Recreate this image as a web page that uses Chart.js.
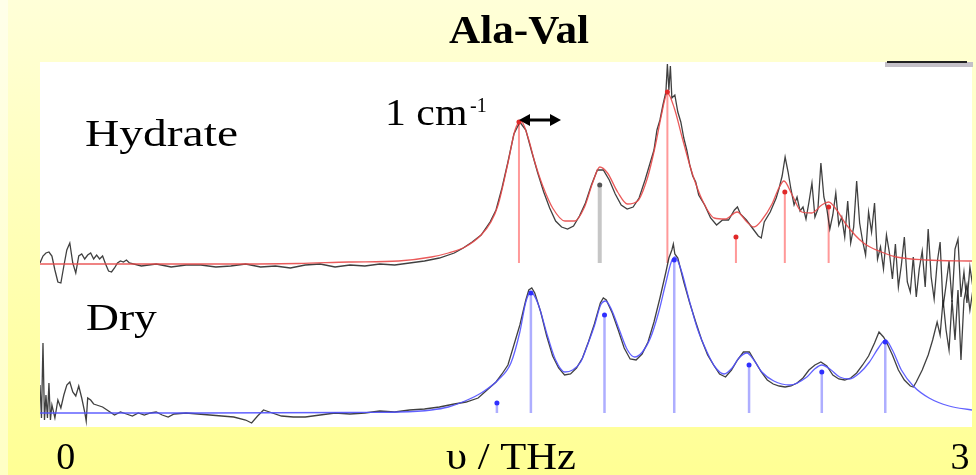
<!DOCTYPE html>
<html>
<head>
<meta charset="utf-8">
<script src="https://cdn.jsdelivr.net/npm/chart.js@4"></script>
<style>
  body{margin:0;background:#fff;}
  #wrap{width:976px;height:475px;}
</style>
</head>
<body>
<div id="wrap"><canvas id="spectra" width="976" height="475"></canvas></div>
<script>
// x in THz, y in absorbance (a.u.), hydrate trace is offset upward
const titleText='Ala-Val';
const axisLabel='υ / THz';
const xTicks=[0,3];

// Hydrate: measured spectrum
const hydRawX=[-0.09,-0.08,-0.07,-0.06,-0.05,-0.04,-0.03,-0.02,-0.01,0,0.01,0.02,0.03,0.04,0.05,0.06,0.07,0.08,0.09,0.10,0.11,0.12,0.13,0.14,0.15,0.16,0.17,0.18,0.19,0.20,0.21,
  0.25,0.30,0.35,0.40,0.45,0.50,0.55,0.60,0.65,0.70,0.75,0.80,0.85,0.90,0.95,1.00,1.05,1.10,1.15,1.20,1.25,1.30,
  1.33,1.36,1.39,1.42,1.44,1.46,1.48,1.50,1.52,1.54,1.56,1.58,1.60,1.62,1.64,1.66,1.68,1.70,1.72,1.74,1.76,1.78,1.80,1.82,1.84,1.86,1.88,1.90,1.92,1.94,1.96,1.97,1.98,1.99,2.00,2.01,2.015,2.02,2.025,2.03,2.04,2.05,2.06,2.07,2.08,2.09,2.10,2.11,2.12,2.14,2.16,2.18,2.20,2.22,2.24,2.25,2.26,2.28,2.30,2.32,2.33,2.34,2.36,2.38,2.39,2.40,2.41,2.42,2.43,2.44,
  2.45,2.46,2.47,2.48,2.49,2.50,2.51,2.52,2.53,2.54,2.55,2.56,2.57,2.58,2.59,2.60,2.61,2.62,2.63,2.64,2.65,2.66,2.67,2.68,2.69,2.70,2.71,2.72,2.73,2.74,2.75,2.76,2.77,2.78,2.79,2.80,2.81,2.82,2.83,2.84,2.85,2.86,2.87,2.88,2.89,2.90,2.91,2.92,2.93,2.94,2.95,2.96,2.97,2.98,2.99,3.00,3.01,3.02,3.03,3.04];
const hydRawY=[1.64,1.71,1.74,1.75,1.71,1.57,1.45,1.44,1.61,1.77,1.84,1.64,1.54,1.71,1.73,1.68,1.72,1.74,1.68,1.72,1.68,1.71,1.63,1.56,1.55,1.59,1.64,1.66,1.65,1.67,1.64,
  1.61,1.63,1.60,1.62,1.62,1.60,1.61,1.63,1.60,1.61,1.59,1.62,1.63,1.60,1.62,1.61,1.63,1.62,1.64,1.66,1.69,1.74,
  1.79,1.85,1.92,2.05,2.17,2.39,2.65,2.93,3.05,2.97,2.75,2.54,2.35,2.19,2.06,2.00,1.98,2.01,2.11,2.24,2.42,2.57,2.57,2.47,2.33,2.22,2.18,2.20,2.29,2.47,2.67,2.77,2.97,3.07,3.22,3.35,3.63,3.37,3.61,3.29,3.32,3.15,3.05,2.89,2.77,2.62,2.51,2.45,2.32,2.22,2.09,2.02,2.07,2.07,2.17,2.20,2.13,2.07,1.99,1.91,1.89,2.05,2.15,2.29,2.39,2.51,2.70,2.55,2.37,2.22,
  2.30,2.16,2.20,2.08,2.25,2.44,2.10,2.18,2.64,2.30,2.18,1.98,2.12,2.34,2.02,2.10,1.90,2.26,1.84,2.00,2.46,2.04,1.86,1.72,2.15,1.95,2.24,1.68,1.80,1.58,1.92,1.74,1.48,1.83,1.40,1.62,1.90,1.45,1.35,1.70,1.30,1.58,1.76,1.40,1.98,1.50,1.28,1.64,1.85,1.20,1.42,1.66,1.25,1.78,1.88,1.30,1.55,1.24,1.60,1.40];

// Hydrate: fitted curve
const hydFitX=[-0.09,0.11,0.444,0.778,0.946,1.113,1.223,1.28,1.336,1.39,1.423,1.447,1.48,1.504,1.524,1.547,1.57,1.597,1.63,1.671,1.704,1.737,1.764,1.788,1.814,1.848,1.881,1.915,1.948,1.975,1.995,2.015,2.038,2.065,2.098,2.132,2.172,2.209,2.249,2.282,2.305,2.332,2.366,2.389,2.406,2.432,2.466,2.499,2.533,2.556,2.583,2.616,2.673,2.733,2.783,2.883,3.037];
const hydFitY=[1.63,1.63,1.63,1.635,1.65,1.66,1.70,1.74,1.80,1.92,2.05,2.22,2.64,2.97,3.06,2.90,2.65,2.41,2.19,2.06,2.06,2.20,2.44,2.60,2.54,2.35,2.23,2.26,2.49,2.82,3.12,3.34,3.19,2.89,2.54,2.27,2.09,2.08,2.15,2.05,2.00,2.07,2.23,2.39,2.46,2.33,2.15,2.14,2.22,2.25,2.17,2.02,1.84,1.75,1.70,1.67,1.66];

// Dry: measured spectrum
const dryRawX=[-0.09,-0.085,-0.08,-0.075,-0.07,-0.065,-0.06,-0.055,-0.05,-0.04,
  -0.03,-0.02,-0.01,0,0.01,0.02,0.03,0.04,0.05,0.06,
  0.065,0.07,0.08,0.09,0.10,0.12,0.14,0.16,0.18,0.20,
  0.22,0.24,0.26,0.28,0.30,0.32,0.34,0.36,0.40,0.44,
  0.48,0.52,0.56,0.60,0.62,0.64,0.66,0.68,0.72,0.76,
  0.80,0.85,0.90,0.95,1.00,1.05,1.10,1.15,1.20,1.25,
  1.30,1.34,1.38,1.41,1.44,1.46,1.48,1.50,1.52,1.54,
  1.55,1.56,1.57,1.59,1.61,1.63,1.65,1.67,1.69,1.71,
  1.73,1.75,1.77,1.79,1.80,1.81,1.83,1.85,1.87,1.89,
  1.91,1.93,1.95,1.97,1.99,2.01,2.02,2.03,2.035,2.04,
  2.05,2.06,2.07,2.09,2.11,2.13,2.15,2.17,2.19,2.21,
  2.23,2.25,2.27,2.29,2.31,2.33,2.35,2.37,2.39,2.41,
  2.43,2.45,2.47,2.49,2.51,2.53,2.55,2.57,2.59,2.61,
  2.63,2.65,2.67,2.69,2.71,2.725,2.74,2.75,2.77,2.79,
  2.81,2.83,2.84,2.85,2.87,2.89,2.905,2.92,2.93,2.94,
  2.95,2.96,2.97,2.98,2.99,3.00,3.01,3.02,3.03,3.04];
const dryRawY=[0.42,0.09,0.84,0.07,0.32,0.09,0.44,0.07,0.22,0.09,
  0.27,0.19,0.32,0.42,0.45,0.35,0.31,0.41,0.29,0.15,
  0.06,0.29,0.27,0.23,0.22,0.20,0.16,0.12,0.15,0.13,
  0.11,0.14,0.12,0.14,0.15,0.12,0.10,0.13,0.14,0.13,
  0.12,0.11,0.10,0.07,0.04,0.11,0.17,0.15,0.11,0.10,
  0.10,0.12,0.14,0.13,0.14,0.16,0.15,0.17,0.18,0.20,
  0.23,0.25,0.29,0.37,0.45,0.53,0.62,0.82,1.02,1.27,
  1.37,1.39,1.34,1.15,0.91,0.71,0.59,0.52,0.53,0.59,
  0.69,0.85,1.03,1.24,1.29,1.27,1.14,0.97,0.79,0.68,
  0.67,0.73,0.85,1.05,1.29,1.55,1.69,1.77,1.83,1.73,
  1.69,1.57,1.45,1.24,1.05,0.87,0.72,0.62,0.53,0.50,
  0.57,0.67,0.75,0.75,0.65,0.55,0.47,0.43,0.41,0.40,
  0.41,0.44,0.49,0.57,0.62,0.65,0.61,0.52,0.48,0.47,
  0.49,0.54,0.62,0.71,0.84,0.95,0.90,0.85,0.72,0.57,
  0.47,0.41,0.40,0.45,0.57,0.72,0.87,1.05,0.92,1.27,
  0.97,0.77,1.27,0.87,1.37,0.67,1.27,1.42,1.17,1.37];

// Dry: fitted curve
const dryFitX=[-0.09,0.444,0.946,1.113,1.223,1.28,1.336,1.39,1.447,1.49,1.52,1.54,1.557,1.58,1.614,1.64,1.671,1.697,1.724,1.747,1.771,1.791,1.808,1.828,1.854,1.881,1.905,1.931,1.958,1.985,2.008,2.028,2.041,2.061,2.088,2.115,2.148,2.175,2.205,2.232,2.255,2.282,2.305,2.332,2.372,2.426,2.483,2.509,2.533,2.56,2.593,2.626,2.66,2.693,2.723,2.747,2.77,2.8,2.84,2.893,2.96,3.037];
const dryFitY=[0.14,0.14,0.145,0.15,0.17,0.20,0.26,0.34,0.47,0.64,0.95,1.25,1.35,1.24,0.90,0.67,0.55,0.57,0.65,0.82,1.02,1.22,1.26,1.17,0.97,0.77,0.70,0.75,0.89,1.14,1.42,1.65,1.70,1.57,1.27,0.99,0.75,0.60,0.53,0.59,0.69,0.74,0.67,0.55,0.46,0.42,0.50,0.58,0.62,0.58,0.50,0.48,0.54,0.65,0.79,0.87,0.77,0.57,0.41,0.29,0.21,0.17];

// mode positions (sticks)
const hydStickX=[1.517,2.015,2.245,2.409,2.556];
const hydStickTop=[3.05,3.35,1.90,2.35,2.20];
const hydGrayX=[1.788];
const hydGrayTop=[2.42];
const hydBase=1.64;
const dryStickX=[1.443,1.557,1.804,2.038,2.289,2.533,2.746];
const dryStickTop=[0.24,1.34,1.12,1.67,0.62,0.55,0.85];
const dryBase=0.14;

function zip(xs,ys){
  return xs.map((x,i)=>({x:x,y:ys[i]}));
}
function sticks(xs,tops,base){
  const pts=[];
  for(let i=0;i<xs.length;i++){
    pts.push({x:xs[i],y:base});
    pts.push({x:xs[i],y:tops[i]});
    pts.push({x:xs[i],y:null});
  }
  return pts;
}

function stretchText(ctx,str,x,y,font,sx,align){
  ctx.save();
  ctx.font=font;
  ctx.textBaseline='alphabetic';
  ctx.textAlign=align||'left';
  ctx.translate(x,y);
  ctx.scale(sx,1);
  ctx.fillStyle='#000';
  ctx.fillText(str,0,0);
  ctx.restore();
}

const backdrop={
  id:'backdrop',
  beforeDraw(chart){
    const ctx=chart.ctx, a=chart.chartArea;
    ctx.save();
    const g=ctx.createLinearGradient(0,0,0,chart.height);
    g.addColorStop(0,'#ffffd8');
    g.addColorStop(1,'#ffff94');
    ctx.fillStyle=g;
    ctx.fillRect(0,0,chart.width,chart.height);
    ctx.fillStyle='rgba(255,255,255,0.45)';
    ctx.fillRect(0,0,8,chart.height);
    ctx.fillStyle='#fff';
    ctx.fillRect(a.left,a.top,a.right-a.left,a.bottom-a.top);
    ctx.restore();
  }
};

const labels={
  id:'labels',
  afterDraw(chart){
    const ctx=chart.ctx, xs=chart.scales.x;
    const serif='"Liberation Serif","Times New Roman",serif';
    stretchText(ctx,titleText,519,43,'bold 40px '+serif,1.08,'center');
    stretchText(ctx,'Hydrate',85,146,'38px '+serif,1.25);
    stretchText(ctx,'Dry',86,330,'38px '+serif,1.2);
    stretchText(ctx,'1 cm',385,125,'38px '+serif,1.1);
    stretchText(ctx,'-1',470,112,'20px '+serif,1.0);
    xTicks.forEach(v=>stretchText(ctx,String(v),xs.getPixelForValue(v)-1,469,'38px '+serif,1.0,'center'));
    stretchText(ctx,axisLabel,xs.getPixelForValue(1.49),469,'38px '+serif,1.12,'center');

    // double arrow (1 cm-1 width marker)
    ctx.save();
    ctx.strokeStyle='#000';ctx.fillStyle='#000';ctx.lineWidth=3;
    const y0=120, xa=519, xb=561;
    ctx.beginPath();ctx.moveTo(xa+8,y0);ctx.lineTo(xb-8,y0);ctx.stroke();
    ctx.beginPath();ctx.moveTo(xa,y0);ctx.lineTo(xa+11,y0-6);ctx.lineTo(xa+11,y0+6);ctx.closePath();ctx.fill();
    ctx.beginPath();ctx.moveTo(xb,y0);ctx.lineTo(xb-11,y0-6);ctx.lineTo(xb-11,y0+6);ctx.closePath();ctx.fill();
    // bar at top right
    ctx.fillStyle='#c4c0c8';ctx.fillRect(885,62,88,5);
    ctx.fillStyle='#222';ctx.fillRect(887,61,80,2);
    ctx.restore();
  }
};

new Chart(document.getElementById('spectra'),{
  type:'line',
  data:{
    datasets:[
      {label:'dry stick dots',data:zip(dryStickX,dryStickTop),showLine:false,pointRadius:2.5,pointBackgroundColor:'#2f2fff',pointBorderWidth:0,order:0},
      {label:'hydrate stick dots',data:zip(hydStickX,hydStickTop),showLine:false,pointRadius:2.5,pointBackgroundColor:'#e02828',pointBorderWidth:0,order:0},
      {label:'hydrate gray dot',data:zip(hydGrayX,hydGrayTop),showLine:false,pointRadius:2.5,pointBackgroundColor:'#555',pointBorderWidth:0,order:0},
      {label:'Hydrate fit',data:zip(hydFitX,hydFitY),borderColor:'rgba(232,72,72,0.9)',borderWidth:1.3,pointRadius:0,cubicInterpolationMode:'monotone',order:1},
      {label:'Dry fit',data:zip(dryFitX,dryFitY),borderColor:'rgba(80,80,255,0.9)',borderWidth:1.3,pointRadius:0,cubicInterpolationMode:'monotone',order:1},
      {label:'Hydrate',data:zip(hydRawX,hydRawY),borderColor:'rgba(30,30,30,0.85)',borderWidth:1.3,pointRadius:0,tension:0,order:2},
      {label:'Dry',data:zip(dryRawX,dryRawY),borderColor:'rgba(30,30,30,0.85)',borderWidth:1.3,pointRadius:0,tension:0,order:2},
      {label:'hydrate modes',data:sticks(hydStickX,hydStickTop,hydBase),borderColor:'rgba(255,110,110,0.7)',borderWidth:2,pointRadius:0,spanGaps:false,order:3},
      {label:'hydrate gray mode',data:sticks(hydGrayX,hydGrayTop,hydBase),borderColor:'#c6c6c6',borderWidth:4,pointRadius:0,spanGaps:false,order:3},
      {label:'dry modes',data:sticks(dryStickX,dryStickTop,dryBase),borderColor:'rgba(140,140,255,0.7)',borderWidth:2.5,pointRadius:0,spanGaps:false,order:3}
    ]
  },
  options:{
    responsive:false,
    animation:false,
    devicePixelRatio:1,
    layout:{padding:{left:40,right:0,top:62,bottom:48}},
    plugins:{legend:{display:false},tooltip:{enabled:false},title:{display:false}},
    scales:{
      x:{type:'linear',min:-0.09,max:3.037,display:false},
      y:{type:'linear',min:0,max:3.65,display:false}
    }
  },
  plugins:[backdrop,labels]
});
</script>
</body>
</html>
